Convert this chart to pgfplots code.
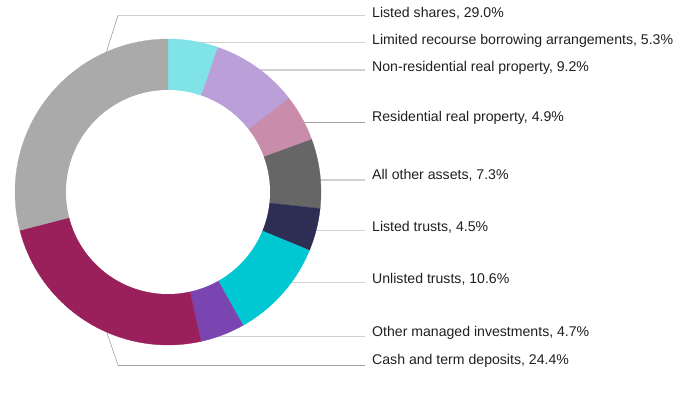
\documentclass[border=0pt]{standalone}
\usepackage{pgfplots}
\pgfplotsset{compat=1.18}
\usepackage{fontspec}
\setmainfont{Liberation Sans}
\definecolor{cShares}{HTML}{AAAAAA}
\definecolor{cLRBA}{HTML}{80E3E8}
\definecolor{cNonRes}{HTML}{BB9FD9}
\definecolor{cRes}{HTML}{C98DAB}
\definecolor{cOther}{HTML}{666666}
\definecolor{cLTrust}{HTML}{2E2E55}
\definecolor{cUTrust}{HTML}{00C8D2}
\definecolor{cManaged}{HTML}{7A45B1}
\definecolor{cCash}{HTML}{99205B}
\definecolor{cLine}{HTML}{D0D0D0}
\definecolor{cLineDark}{HTML}{A0A0A0}
\def\total{99.9}
\def\cum{0}
% one donut slice: colour, value (percent); drawn clockwise from 12 o'clock
\newcommand\slice[2]{%
  \pgfmathsetmacro\angA{-90+(\cum/\total)*360}%
  \pgfmathsetmacro\cumnew{\cum+#2}%
  \pgfmathsetmacro\angB{-90+(\cumnew/\total)*360}%
  \addplot[fill=#1,draw=#1,line width=0.3pt,mark=none,domain=\angA:\angB,samples=60]
    ({168+153*cos(x)},{192+153*sin(x)}) -- (axis cs:168,192) -- cycle;
  \global\let\cum\cumnew
}
\tikzset{lab/.style={anchor=base west,inner sep=0pt,text=black!88,font=\fontsize{14.1bp}{17bp}\selectfont}}
\begin{document}
\begin{tikzpicture}
\begin{axis}[width=689bp,height=393bp,scale only axis,
  xmin=0,xmax=689,ymin=0,ymax=393,y dir=reverse,
  hide axis,clip=false,enlargelimits=false]
% frame the full picture area (invisible)
\path[draw=none,fill=none] (axis cs:0,0) rectangle (axis cs:689,393);
% leader lines
\draw[cLineDark,line width=0.6pt] (axis cs:105.4,55) -- (axis cs:118,15.3);
\draw[cLine,line width=1.1pt] (axis cs:118,15.3) -- (axis cs:365,15.3);
\draw[cLine,line width=1.1pt] (axis cs:168,42.7) -- (axis cs:365,42.7);
\draw[cLine,line width=1.1pt] (axis cs:168,70) -- (axis cs:365,70);
\draw[cLineDark,line width=0.8pt] (axis cs:168,122) -- (axis cs:365,122);
\draw[cLine,line width=1.1pt] (axis cs:168,180) -- (axis cs:365,180);
\draw[cLine,line width=1.1pt] (axis cs:168,230.7) -- (axis cs:365,230.7);
\draw[cLine,line width=1.1pt] (axis cs:168,282.7) -- (axis cs:365,282.7);
\draw[cLine,line width=1.1pt] (axis cs:168,336.7) -- (axis cs:365,336.7);
\draw[cLineDark,line width=0.6pt] (axis cs:105.3,328) -- (axis cs:118,365);
\draw[cLineDark,line width=0.8pt] (axis cs:118,365) -- (axis cs:365,365);
% donut
\slice{cLRBA}{5.3}
\slice{cNonRes}{9.2}
\slice{cRes}{4.9}
\slice{cOther}{7.3}
\slice{cLTrust}{4.5}
\slice{cUTrust}{10.6}
\slice{cManaged}{4.7}
\slice{cCash}{24.4}
\slice{cShares}{29.0}
\addplot[fill=white,draw=none,mark=none,domain=0:360,samples=150]
  ({168+102*cos(x)},{192+102*sin(x)}) -- cycle;
% labels
\node[lab] at (axis cs:372,17) {Listed shares, 29.0\%};
\node[lab] at (axis cs:372,44.3) {Limited recourse borrowing arrangements, 5.3\%};
\node[lab] at (axis cs:372,71.3) {Non-residential real property, 9.2\%};
\node[lab] at (axis cs:372,121.5) {Residential real property, 4.9\%};
\node[lab] at (axis cs:372,179.3) {All other assets, 7.3\%};
\node[lab] at (axis cs:372,231) {Listed trusts, 4.5\%};
\node[lab] at (axis cs:372,283) {Unlisted trusts, 10.6\%};
\node[lab] at (axis cs:372,336.3) {Other managed investments, 4.7\%};
\node[lab] at (axis cs:372,364.7) {Cash and term deposits, 24.4\%};
\end{axis}
\end{tikzpicture}
\end{document}
